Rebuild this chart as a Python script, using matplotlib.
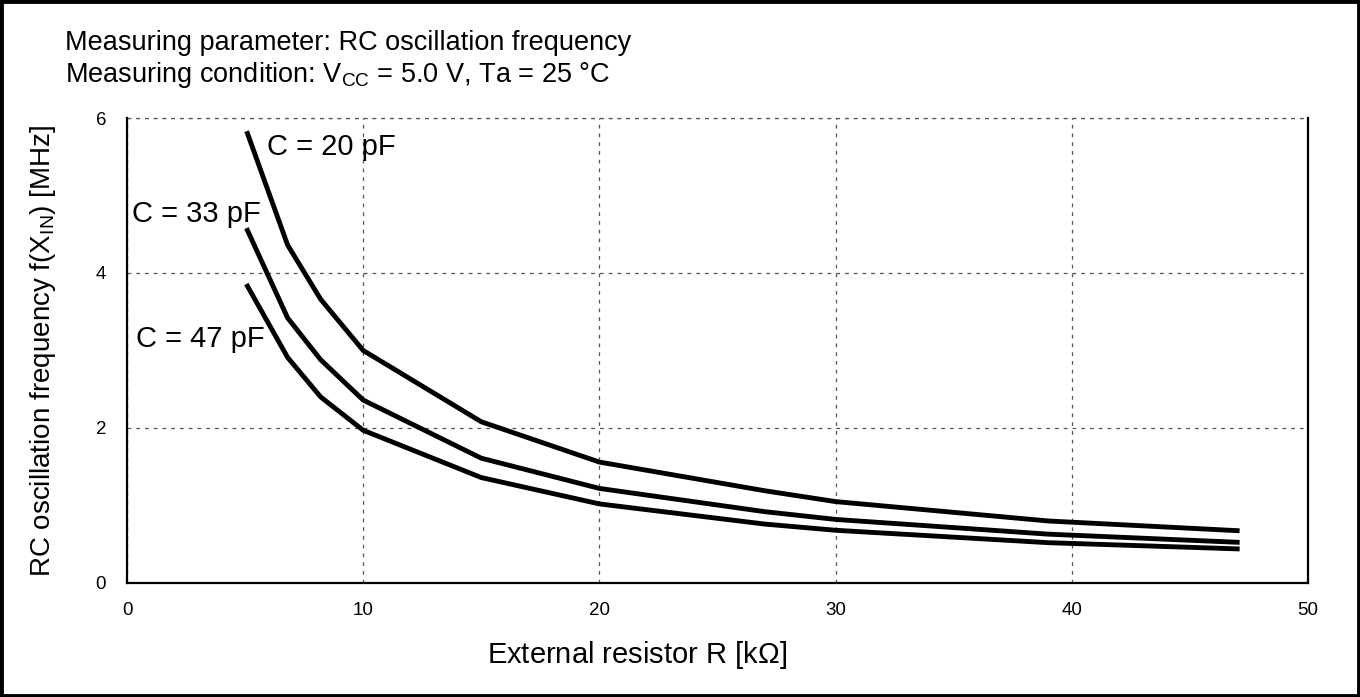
import numpy as np
import matplotlib
matplotlib.use('Agg')
import matplotlib.pyplot as plt
from matplotlib.patches import Rectangle

plt.rcParams['font.family'] = ['Liberation Sans', 'DejaVu Sans']
plt.rcParams['mathtext.fontset'] = 'custom'
plt.rcParams['mathtext.rm'] = 'Liberation Sans'
plt.rcParams['mathtext.it'] = 'Liberation Sans'

# external resistor values [kOhm]
r_kohm = [5.1, 6.8, 8.2, 10, 15, 20, 27, 30, 39, 47]

# RC oscillation frequency [MHz]
f_20pf = [5.80, 4.36, 3.66, 3.00, 2.08, 1.56, 1.19, 1.05, 0.80, 0.675]
f_33pf = [4.55, 3.42, 2.88, 2.36, 1.61, 1.22, 0.92, 0.82, 0.63, 0.525]
f_47pf = [3.83, 2.91, 2.40, 1.97, 1.36, 1.02, 0.76, 0.68, 0.52, 0.44]

curves = [('C = 20 pF', f_20pf, (5.93, 5.63)),
          ('C = 33 pF', f_33pf, (0.2, 4.76)),
          ('C = 47 pF', f_47pf, (0.4, 3.15))]

fig = plt.figure(figsize=(13.6, 6.97), dpi=100)
ax = fig.add_axes([0.0934, 0.1636, 0.8684, 0.6671])

for label, f, (lx, ly) in curves:
    ax.plot(r_kohm, f, color='black', lw=3.5, solid_joinstyle='miter')
    ax.text(lx, ly, label, fontsize=21, va='center', ha='left')

ax.set_xlim(0, 50)
ax.set_ylim(0, 6)
ax.set_xticks([0, 10, 20, 30, 40, 50])
ax.set_yticks([0, 2, 4, 6])
ax.tick_params(length=0, labelsize=13.5, pad=14)
ax.tick_params(axis='y', pad=15)
ax.grid(True, ls=(0, (3, 4)), color='#555555', lw=0.9)

for side in ['left', 'bottom', 'right']:
    ax.spines[side].set_linewidth(1.6)
ax.spines['top'].set_visible(False)
ax.axhline(6, ls=(0, (3, 4)), color='#555555', lw=0.9, clip_on=False)

ax.set_xlabel(r'External resistor R [k$\Omega$]', fontsize=21, va='center')
ax.xaxis.set_label_coords(0.432, -0.155)
ax.set_ylabel(r'RC oscillation frequency f(X$_{\mathrm{IN}}$) [MHz]', fontsize=20, va='center')
ax.yaxis.set_label_coords(-0.071, 0.5)

fig.text(0.048, 0.938, 'Measuring parameter: RC oscillation frequency', fontsize=19.5, va='center')
fig.text(0.048, 0.892, r'Measuring condition: V$_{\mathrm{CC}}$ = 5.0 V, Ta = 25 °C',
         fontsize=19.5, va='center')

fig.patches.append(Rectangle((0.001, 0.002), 0.998, 0.996, transform=fig.transFigure,
                             fill=False, edgecolor='black', lw=3.5))

fig.savefig('out.png', dpi=100)
